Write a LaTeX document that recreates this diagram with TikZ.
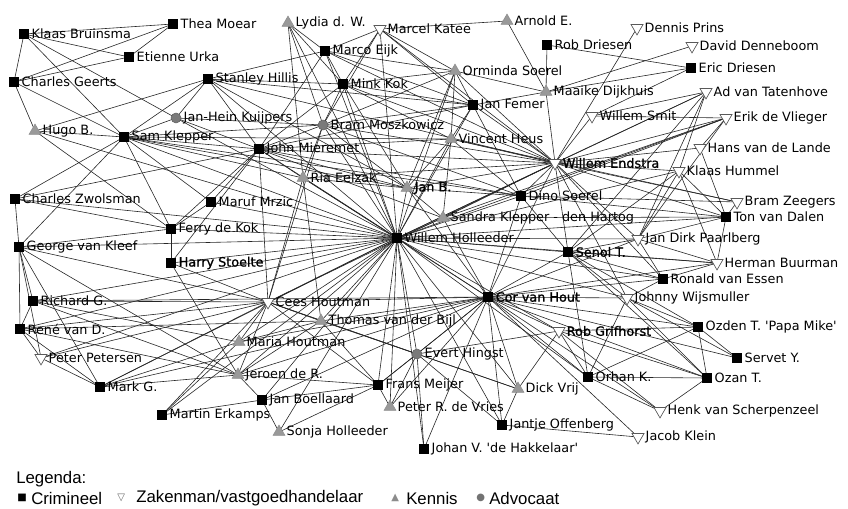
\documentclass[tikz,border=0pt]{standalone}
\usepackage{fontspec}
\setmainfont{DejaVu Sans}
\newfontfamily\fbfont{DejaVu Sans}[FakeBold=1.2]
\newfontfamily\legfont{Liberation Sans}
\newfontfamily\symfont{DejaVu Sans}
\usetikzlibrary{shapes.geometric}
\pgfdeclarelayer{bg}
\pgfsetlayers{bg,main}
\newcommand\nd[5]{\node[#4] (#1) at (#2,#3) {}; \node[lbl] (#1-l) at ([xshift=5.6pt]#1.center) {#5};}
\begin{document}
\begin{tikzpicture}[x=0.75pt,y=-0.75pt,
 crim/.style={rectangle,fill=black,inner sep=0,minimum size=7pt},
 zak/.style={regular polygon,regular polygon sides=3,shape border rotate=180,draw=black!65,fill=white,inner sep=0,minimum size=10.4pt,line width=0.5pt},
 ken/.style={regular polygon,regular polygon sides=3,draw=black!45,fill=black!40,inner sep=0,minimum size=10.4pt,line width=0.4pt},
 adv/.style={circle,fill=black!52,draw=black!62,inner sep=0,minimum size=7.5pt,line width=0.4pt},
 lbl/.style={inner sep=0,font=\fontsize{9.6}{11}\selectfont,anchor=west},
 legtxt/.style={inner sep=0,anchor=west,font=\legfont\fontsize{12.6}{14}\selectfont},
 legsym/.style={inner sep=0,anchor=west,font=\symfont\fontsize{7.5}{9}\selectfont},
 edge/.style={line width=0.45pt,black!85}]
\useasboundingbox (0,0) rectangle (848,509);
\nd{KB}{24}{34}{crim}{Klaas Bruinsma}
\nd{TM}{173}{24}{crim}{Thea Moear}
\nd{EU}{129}{57}{crim}{Etienne Urka}
\nd{CG}{14}{82}{crim}{Charles Geerts}
\nd{SH}{208}{79}{crim}{Stanley Hillis}
\nd{LW}{288}{23}{ken}{Lydia d. W.}
\nd{MK}{380}{29}{zak}{Marcel Katee}
\nd{AE}{507}{21}{ken}{Arnold E.}
\nd{ME}{325}{51}{crim}{Marco Eijk}
\nd{MKo}{343}{84}{crim}{Mink Kok}
\nd{OS}{455}{71}{ken}{Orminda Soerel}
\nd{RD}{547}{45}{crim}{Rob Driesen}
\nd{DP}{637}{28}{zak}{Dennis Prins}
\nd{DD}{692}{46}{zak}{David Denneboom}
\nd{ED}{691}{68}{crim}{Eric Driesen}
\nd{MD}{546}{92}{ken}{Maaike Dijkhuis}
\nd{JF}{473}{105}{crim}{Jan Femer}
\nd{AT}{706}{92}{zak}{Ad van Tatenhove}
\nd{WS}{592}{116}{zak}{Willem Smit}
\nd{EV}{726}{118}{zak}{Erik de Vlieger}
\nd{JHK}{176}{118}{adv}{Jan-Hein Kuijpers}
\nd{BM}{323}{125}{adv}{Bram Moszkowicz}
\nd{VH}{451}{139}{ken}{Vincent Heus}
\nd{HB}{35}{131}{ken}{Hugo B.}
\nd{SK}{124}{137}{crim}{Sam Klepper}
\nd{JM}{259}{149}{crim}{John Mieremet}
\nd{WE}{555}{163}{zak}{\fbfont Willem Endstra}
\nd{HL}{700}{148}{zak}{Hans van de Lande}
\nd{KH}{679}{171}{zak}{Klaas Hummel}
\nd{RE}{303}{178}{ken}{Ria Eelzak}
\nd{JB}{407}{188}{ken}{\fbfont Jan B.}
\nd{DS}{521}{196}{crim}{Dino Soerel}
\nd{BZ}{737}{202}{zak}{Bram Zeegers}
\nd{CZ}{15}{199}{crim}{Charles Zwolsman}
\nd{MM}{211}{202}{crim}{Maruf Mrzic}
\nd{SKH}{443}{218}{ken}{Sandra Klepper - den Hartog}
\nd{TD}{726}{217}{crim}{Ton van Dalen}
\nd{FK}{171}{229}{crim}{Ferry de Kok}
\nd{WH}{397}{238}{crim}{Willem Holleeder}
\nd{JDP}{638}{239}{zak}{Jan Dirk Paarlberg}
\nd{GK}{19}{247}{crim}{George van Kleef}
\nd{ST}{568}{252}{crim}{\fbfont Senol T.}
\nd{HS}{171}{263}{crim}{\fbfont Harry Stoelte}
\nd{HBu}{717}{263}{zak}{Herman Buurman}
\nd{RvE}{663}{279}{crim}{Ronald van Essen}
\nd{RG}{33}{301}{crim}{Richard G.}
\nd{CH}{268}{302}{zak}{Cees Houtman}
\nd{CvH}{488}{297}{crim}{\fbfont Cor van Hout}
\nd{JW}{627}{298}{zak}{Johnny Wijsmuller}
\nd{TB}{321}{321}{ken}{Thomas van der Bijl}
\nd{OT}{698}{327}{crim}{Ozden T. \textquotesingle Papa Mike\textquotesingle}
\nd{RvD}{20}{329}{crim}{René van D.}
\nd{RGr}{559}{331}{zak}{\fbfont Rob Grifhorst}
\nd{MH}{239}{342}{ken}{Maria Houtman}
\nd{PP}{41}{358}{zak}{Peter Petersen}
\nd{EH}{417}{354}{adv}{Evert Hingst}
\nd{SY}{737}{358}{crim}{Servet Y.}
\nd{MG}{100}{387}{crim}{Mark G.}
\nd{JR}{238}{375}{ken}{Jeroen de R.}
\nd{FM}{378}{385}{crim}{Frans Meijer}
\nd{DV}{518}{389}{ken}{Dick Vrij}
\nd{OK}{588}{377}{crim}{Orhan K.}
\nd{OzT}{707}{378}{crim}{Ozan T.}
\nd{JBo}{262}{400}{crim}{Jan Boellaard}
\nd{MEr}{162}{415}{crim}{Martin Erkamps}
\nd{PRV}{390}{407}{ken}{Peter R. de Vries}
\nd{HvS}{660}{411}{zak}{Henk van Scherpenzeel}
\nd{SoH}{279}{432}{ken}{Sonja Holleeder}
\nd{JO}{502}{425}{crim}{Jantje Offenberg}
\nd{JK}{638}{437}{zak}{Jacob Klein}
\nd{JV}{424}{449}{crim}{Johan V. \textquotesingle de Hakkelaar\textquotesingle}
\begin{pgfonlayer}{bg}
\foreach \a/\b in {KB/TM,KB/EU,KB/CG,KB/JHK,KB/SK,TM/EU,TM/CG,EU/CG,CG/HB,CG/SK,SH/HB,SH/SK,SH/ME,SH/MKo,SH/JF,SH/WH,SH/JB,SH/JM,SH/JHK,HB/SK,HB/FK,
SK/JM,SK/WH,SK/FK,SK/CZ,SK/GK,SK/JB,SK/RE,SK/BM,SK/VH,SK/MM,SK/JHK,SK/DS,
CZ/GK,CZ/FK,CZ/WH,CZ/JM,GK/RG,GK/RvD,GK/MG,GK/PP,GK/FK,GK/CH,GK/WH,GK/JR,
RG/RvD,RG/CH,RG/WH,RG/JR,RG/MH,RG/CvH,RvD/PP,RvD/CH,RvD/TB,RvD/JR,RvD/WH,RvD/MG,
PP/MG,PP/CH,PP/WH,MG/CH,MG/JR,MG/MH,MG/CvH,MG/WH,MEr/CH,MEr/MH,MEr/JBo,MEr/WH,
JBo/FM,JBo/SoH,JBo/JR,JBo/WH,JBo/CvH,SoH/WH,SoH/FM,FM/WH,FM/CvH,FM/EH,FM/PRV,FM/TB,FM/CH,FM/JR,
PRV/WH,PRV/CvH,PRV/EH,JV/EH,JV/WH,JV/CvH,JO/EH,JO/CvH,JO/JK,JO/DV,
DV/CvH,DV/EH,DV/WH,DV/RGr,DV/CH,OK/RGr,OK/CvH,OK/OzT,OK/JW,OK/HvS,OK/ST,OK/OT,OK/WH,
OzT/HvS,OzT/RGr,OzT/JW,OzT/CvH,OzT/OT,OzT/ST,OT/JW,OT/CvH,OT/RGr,OT/SY,OT/ST,SY/JW,SY/CvH,HvS/RGr,JK/CvH,
JW/CvH,JW/ST,JW/WH,JW/RvE,JW/WE,RvE/ST,RvE/WH,RvE/JDP,RvE/HBu,HBu/JDP,HBu/ST,HBu/KH,HBu/TD,
TD/WE,TD/KH,TD/HL,TD/SKH,TD/JDP,TD/DS,TD/BZ,BZ/WE,BZ/DS,BZ/VH,KH/WE,KH/AT,KH/JDP,KH/ST,HL/WE,HL/EV,
EV/WE,EV/JDP,EV/SKH,EV/WS,EV/DS,AT/WE,AT/JDP,AT/WS,AT/ST,ED/RD,ED/MD,ED/WS,DD/MD,DP/WE,RD/MD,
MD/OS,MD/WE,MD/JF,MD/AE,AE/MK,MK/OS,MK/JF,MK/MKo,MK/ME,MK/WE,MK/BM,
OS/MKo,OS/JF,OS/WH,OS/ME,OS/VH,OS/WE,OS/BM,OS/JB,JF/MKo,JF/ME,JF/WE,JF/WH,JF/JM,JF/VH,JF/DS,JF/BM,
ME/LW,ME/MKo,ME/WE,ME/WH,ME/JM,LW/BM,LW/RE,LW/MKo,MKo/BM,MKo/WH,MKo/WE,MKo/VH,MKo/JB,MKo/JM,
JHK/JM,JHK/WH,JHK/BM,BM/WH,BM/JM,BM/WE,BM/RE,BM/JB,BM/CH,BM/DS,VH/WE,VH/WH,VH/JB,VH/SKH,VH/DS,
JM/WH,JM/RE,JM/JB,JM/MM,JM/WE,JM/SKH,JM/DS,JM/CH,JM/FK,JM/VH,JM/HS,RE/WH,RE/JB,RE/CH,RE/TB,
JB/WH,JB/WE,JB/SKH,JB/DS,DS/WE,DS/WH,DS/ST,SKH/WH,SKH/WE,MM/WH,MM/FK,FK/WH,FK/HS,HS/WH,HS/CH,HS/JR,
ST/WH,ST/CvH,ST/WE,ST/JDP,JDP/WE,JDP/WH,CH/WH,CH/CvH,CH/TB,CH/MH,CH/JR,CH/EH,TB/WH,TB/CvH,TB/MH,TB/EH,TB/JR,
MH/WH,MH/CvH,JR/WH,JR/CvH,EH/CvH,EH/WH,EH/RGr,RGr/CvH,RGr/WH,
CvH/WH,CvH/WE,CvH/DS,CvH/JDP,CvH/SKH,CvH/JB,CvH/HBu,CvH/HvS,CvH/RE,CvH/RvE,
WH/WE,WH/TD,WH/KH,WH/AT,WH/EV,WH/JO,WH/HB,WH/LW,WH/HBu,WH/MK,WE/WS,WE/RE,WE/SH,WE/CH,WE/RvE}
{\draw[edge] (\a.center) -- (\b.center);}
\end{pgfonlayer}
\node[legtxt] (leg) at (16,479) {Legenda:};
\node[legsym] (s1) at (17,498) {■};
\node[legtxt] (t1) at (31,498) {Crimineel};
\node[legsym,text=black!60] (s2) at (117,498) {▽};
\node[legtxt] (t2) at (136,498) {Zakenman/vastgoedhandelaar};
\node[legsym,text=black!45] (s3) at (391,498) {▲};
\node[legtxt] (t3) at (406,498) {Kennis};
\node[legsym,text=black!55] (s4) at (476,498) {●};
\node[legtxt] (t4) at (489,498) {Advocaat};
\end{tikzpicture}
\end{document}
